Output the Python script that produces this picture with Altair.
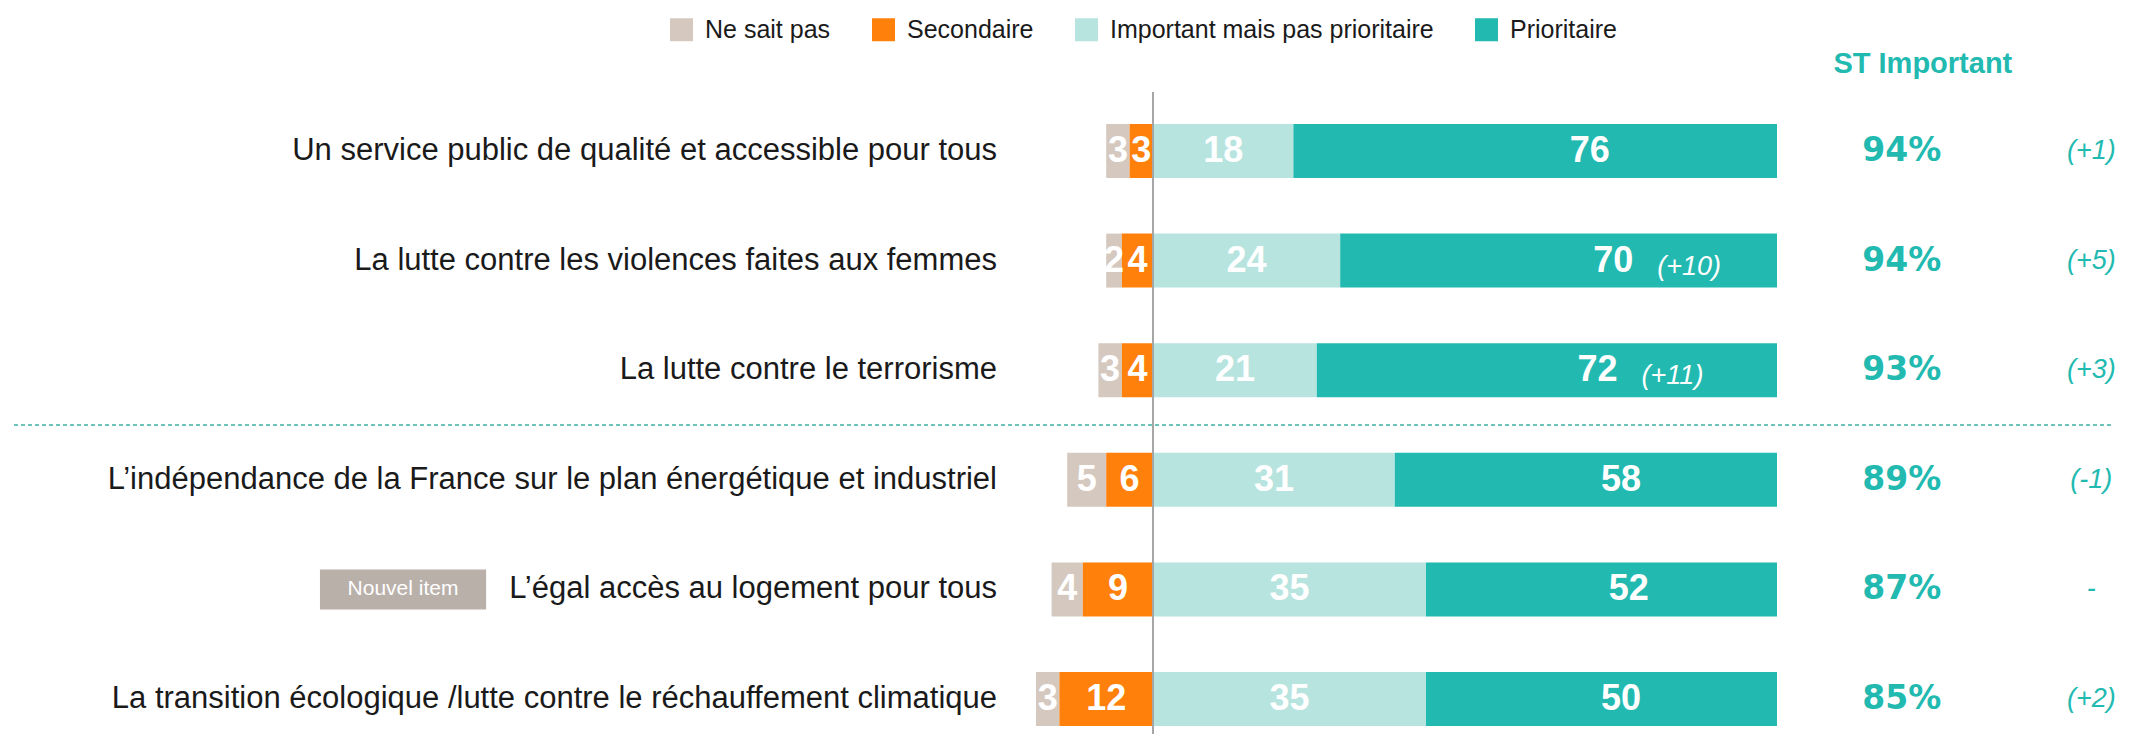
import altair as alt
import pandas as pd

# ---------------- data ----------------
ITEMS = [
    "Un service public de qualité et accessible pour tous",
    "La lutte contre les violences faites aux femmes",
    "La lutte contre le terrorisme",
    "L’indépendance de la France sur le plan énergétique et industriel",
    "L’égal accès au logement pour tous",
    "La transition écologique /lutte contre le réchauffement climatique",
]
NSP = [3, 2, 3, 5, 4, 3]
SECONDAIRE = [3, 4, 4, 6, 9, 12]
IMPORTANT = [18, 24, 21, 31, 35, 35]
PRIORITAIRE = [76, 70, 72, 58, 52, 50]
PRIO_EVOL = ["", "(+10)", "(+11)", "", "", ""]
ST_IMPORTANT = [94, 94, 93, 89, 87, 85]
ST_EVOL = ["(+1)", "(+5)", "(+3)", "(-1)", "-", "(+2)"]
TAGS = ["", "", "", "", "Nouvel item", ""]
CATEGORIES = ["Ne sait pas", "Secondaire", "Important mais pas prioritaire", "Prioritaire"]
COLORS = ["#D5C9BF", "#FF800B", "#B7E4DF", "#22BAB0"]
AXIS_MAX = 80  # the original chart's value axis stops at 80

# ---------------- layout / style constants ----------------
W, H = 2105, 726
PX_PER_UNIT = 7.8
ZERO_PX = 1145
X_MIN = -ZERO_PX / PX_PER_UNIT
X_MAX = (W - ZERO_PX) / PX_PER_UNIT
ROW_TOP, ROW_STEP = 143, 109.6
TEAL = "#22BAB0"
TXT_FONT = "Liberation Sans"
NUM_FONT = "Liberation Sans Narrow, Liberation Sans"

# ---------------- tables ----------------
seg_rows = []
for i, item in enumerate(ITEMS):
    n, s, imp, p = NSP[i], SECONDAIRE[i], IMPORTANT[i], PRIORITAIRE[i]
    segs = [
        (CATEGORIES[0], -(n + s), -s, n),
        (CATEGORIES[1], -s, 0, s),
        (CATEGORIES[2], 0, imp, imp),
        (CATEGORIES[3], imp, imp + p, p),
    ]
    for cat, a, b, v in segs:
        seg_rows.append(dict(item=item, cat=cat, start=a, end=min(b, AXIS_MAX),
                             mid=(a + b) / 2, value=v))
seg = pd.DataFrame(seg_rows)

rows = pd.DataFrame(dict(
    item=ITEMS,
    st=[f"{v}%" for v in ST_IMPORTANT],
    st_evol=ST_EVOL,
    prio_evol=PRIO_EVOL,
    prio_mid=[IMPORTANT[i] + PRIORITAIRE[i] / 2 for i in range(len(ITEMS))],
    tag=TAGS,
))

xscale = alt.Scale(domain=[X_MIN, X_MAX], nice=False, zero=False)
yscale = alt.Scale(type="point", range=[ROW_TOP, ROW_TOP + ROW_STEP * (len(ITEMS) - 1)], padding=0)
Y = alt.Y("item:N", sort=ITEMS, scale=yscale, axis=None)

bars = alt.Chart(seg).mark_bar(size=54).encode(
    x=alt.X("start:Q", scale=xscale, axis=None),
    x2="end:Q",
    y=Y,
    color=alt.Color(
        "cat:N",
        scale=alt.Scale(domain=CATEGORIES, range=COLORS),
        legend=alt.Legend(
            title=None, orient="none", legendX=661, legendY=9, direction="horizontal",
            symbolType="square", symbolSize=529, symbolStrokeWidth=0, symbolOpacity=1,
            labelFontSize=25, labelFont=TXT_FONT, labelColor="#1a1a1a", labelLimit=0,
            labelOffset=11, columnPadding=40,
        ),
    ),
)

bar_text = alt.Chart(seg).mark_text(
    color="white", font=NUM_FONT, fontWeight="bold", fontSize=36, align="center", baseline="middle"
).encode(x=alt.X("mid:Q", scale=xscale), y=Y, text="value:Q")

prio_evol = alt.Chart(rows).transform_filter("datum.prio_evol != ''").mark_text(
    color="white", font=TXT_FONT, fontStyle="italic", fontSize=27, align="left",
    baseline="middle", dx=44, dy=6
).encode(x=alt.X("prio_mid:Q", scale=xscale), y=Y, text="prio_evol:N")

zero_rule = alt.Chart(rows).mark_rule(color="#A6A6A6", strokeWidth=2).encode(
    x=alt.datum(0, scale=xscale), y=alt.value(84), y2=alt.value(H)
)

sep_rule = alt.Chart(rows).mark_rule(color="#6CC3BA", strokeWidth=1.5, strokeDash=[4, 3]).encode(
    x=alt.value(6), x2=alt.value(W), y=alt.value(ROW_TOP + 2.5 * ROW_STEP)
)

labels = alt.Chart(rows).mark_text(
    font=TXT_FONT, fontSize=31, color="#1a1a1a", align="right", baseline="middle"
).encode(x=alt.datum(-20, scale=xscale), y=Y, text="item:N")

tag_box = alt.Chart(rows).transform_filter("datum.tag != ''").mark_bar(size=40, color="#BAB0AA").encode(
    x=alt.datum(-106.8, scale=xscale), x2=alt.datum(-85.5), y=Y
)
tag_text = alt.Chart(rows).transform_filter("datum.tag != ''").mark_text(
    font=TXT_FONT, fontSize=21, color="white", align="center", baseline="middle"
).encode(x=alt.datum(-96.15, scale=xscale), y=Y, text="tag:N")

header = alt.Chart(rows).transform_filter("datum.item == '%s'" % ITEMS[0].replace("'", "\\'")).mark_text(
    font=TXT_FONT, fontWeight="bold", fontSize=29, color=TEAL, align="center", baseline="middle"
).encode(x=alt.datum(98.7, scale=xscale), y=alt.value(56), text=alt.value("ST Important"))

st_text = alt.Chart(rows).mark_text(
    font="DejaVu Sans", fontWeight="bold", fontSize=33, color=TEAL, align="center", baseline="middle"
).encode(x=alt.datum(96, scale=xscale), y=Y, text="st:N")

st_evol = alt.Chart(rows).mark_text(
    font=TXT_FONT, fontStyle="italic", fontSize=27, color=TEAL, align="center", baseline="middle"
).encode(x=alt.datum(120.3, scale=xscale), y=Y, text="st_evol:N")

chart = alt.layer(
    sep_rule, bars, zero_rule, bar_text, prio_evol, labels, tag_box, tag_text, header, st_text, st_evol
).properties(width=W, height=H, padding=0).configure_view(stroke=None)

chart.save("out.html", embed_options={"renderer": "svg", "actions": False})
